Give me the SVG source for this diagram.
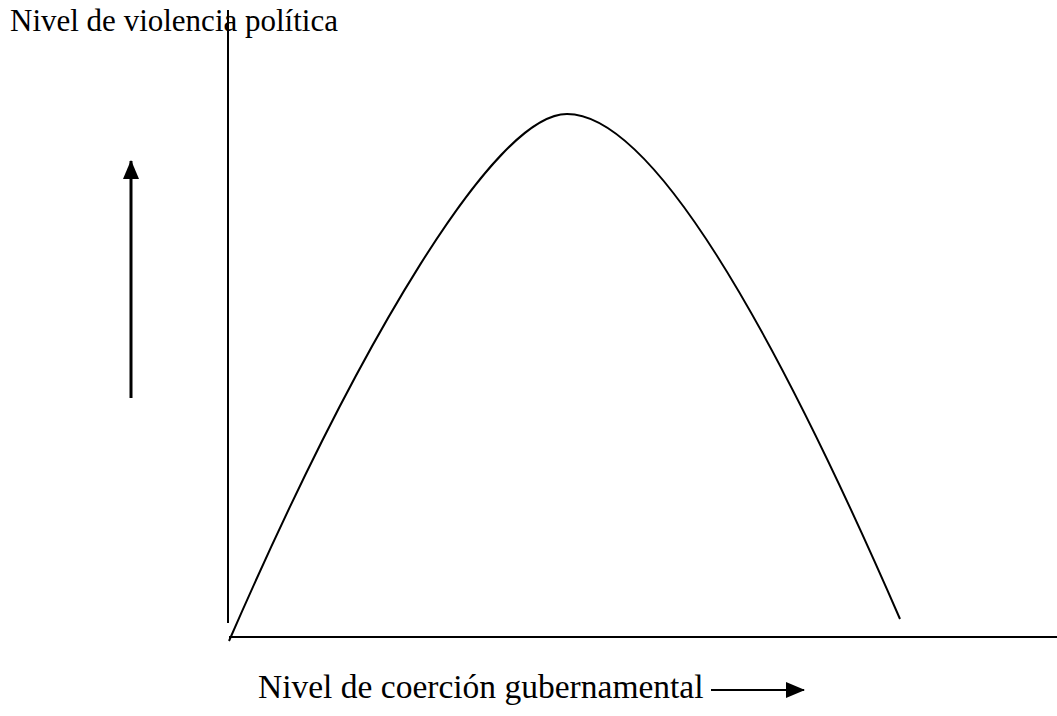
<svg xmlns="http://www.w3.org/2000/svg" width="1057" height="716" viewBox="0 0 1057 716">
<style>
.lbl{font-family:"Liberation Serif","Times New Roman",serif;fill:#000}
.ln{stroke:#000;fill:none}
</style>
<defs>
<marker id="ahv" markerWidth="19" markerHeight="16" refX="18" refY="8" orient="auto" markerUnits="userSpaceOnUse">
<path d="M0,0 L19,8 L0,16 Z" fill="#000"/>
</marker>
</defs>
<rect width="1057" height="716" fill="#fff"/>
<g id="labels">
<text class="lbl" x="10" y="31" font-size="31">Nivel de violencia política</text>
<text class="lbl" x="258" y="698" font-size="33.5">Nivel de coerción gubernamental</text>
</g>
<g id="connectors">
<line id="y-axis" class="ln" x1="228" y1="10" x2="228" y2="623" stroke-width="2"/>
<line id="x-axis" class="ln" x1="229" y1="637" x2="1057" y2="637" stroke-width="2"/>
<path id="curve" class="ln" stroke-width="2" d="M229,641 C360,340 495,114 567,114 C655,114 780,343 900,619"/>
<line id="up-arrow" class="ln" x1="131" y1="398" x2="131" y2="161" stroke-width="3" marker-end="url(#ahv)"/>
<line id="right-arrow" class="ln" x1="711" y1="690" x2="804" y2="690" stroke-width="2" marker-end="url(#ahv)"/>
</g>
</svg>
